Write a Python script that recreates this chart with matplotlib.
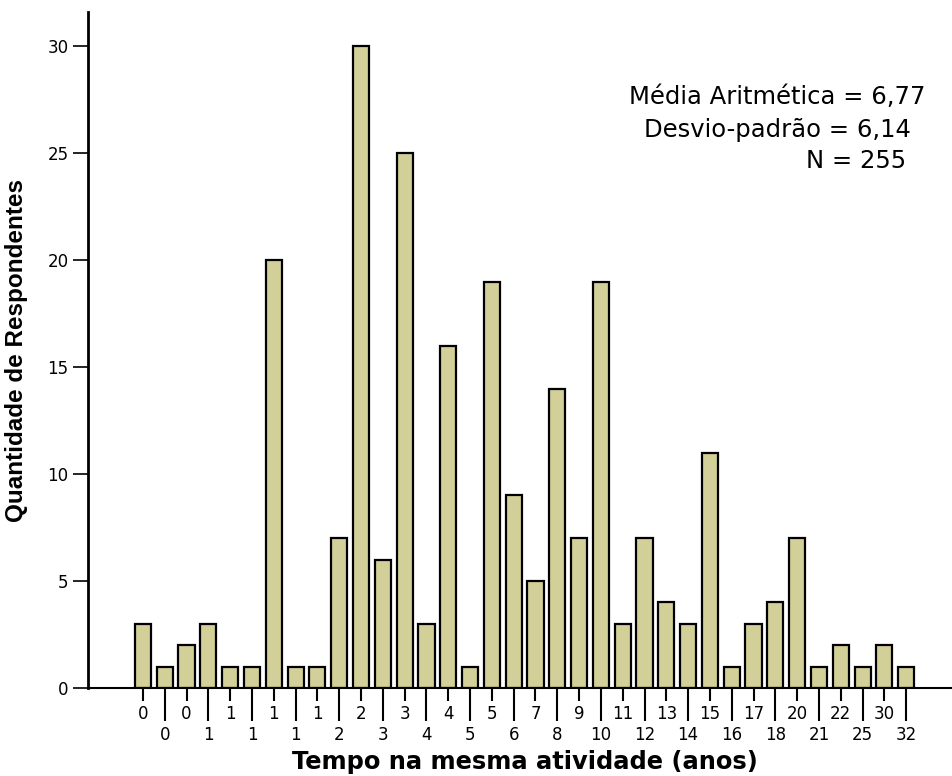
import matplotlib
matplotlib.use("Agg")
import matplotlib.pyplot as plt
import numpy as np

labels = ["0", "0", "0", "1", "1", "1", "1", "1", "1", "2", "2", "3", "3", "4", "4", "5", "5", "6",
          "7", "8", "9", "10", "11", "12", "13", "14", "15", "16", "17", "18", "20", "21", "22", "25",
          "30", "32"]
counts = [3, 1, 2, 3, 1, 1, 20, 1, 1, 7, 30, 6, 25, 3, 16, 1, 19, 9,
          5, 14, 7, 19, 3, 7, 4, 3, 11, 1, 3, 4, 7, 1, 2, 1,
          2, 1]
stats_lines = ["Média Aritmética = 6,77", "Desvio-padrão = 6,14", "N = 255"]
xlabel = "Tempo na mesma atividade (anos)"
ylabel = "Quantidade de Respondentes"

plt.rcParams['font.family'] = ['DejaVu Sans']

fig = plt.figure(figsize=(9.52, 7.76), dpi=100)
ax = fig.add_axes([88/952, 88/776, 1 - 88/952, (688-12)/776])

x = np.arange(len(counts))
ax.bar(x, counts, width=0.74, color="#D3CF98", edgecolor="black", linewidth=1.6)

ax.set_xlim(-2.52, 37.1)
ax.set_ylim(0, 31.6)
ax.set_yticks([0, 5, 10, 15, 20, 25, 30])
ax.tick_params(axis='y', length=11, width=1.2, labelsize=12, pad=3)

ax.set_xticks(x[0::2])
ax.set_xticklabels(labels[0::2])
ax.set_xticks(x[1::2], minor=True)
ax.set_xticklabels(labels[1::2], minor=True)
ax.tick_params(axis='x', which='major', length=9, width=1.5, labelsize=12, pad=3.5)
ax.tick_params(axis='x', which='minor', length=23.5, width=1.5, labelsize=12, pad=3.5)

for s in ['top', 'right']:
    ax.spines[s].set_visible(False)
ax.spines['left'].set_linewidth(2)
ax.spines['bottom'].set_linewidth(1.5)

ax.set_ylabel(ylabel, fontsize=17.5, fontweight='bold', family=['Liberation Sans', 'DejaVu Sans'])
ax.yaxis.set_label_coords(-0.07, 0.499)
fig.text(525/952, 1 - 762/776, xlabel, fontsize=17.4, fontweight='bold', ha='center', va='center')

centers = [(777, 97), (777, 130), (856, 161)]
for (cx, cy), t in zip(centers, stats_lines):
    fig.text(cx/952, 1 - cy/776, t, fontsize=17.5, ha='center', va='center')

fig.savefig("out.png", dpi=100)
